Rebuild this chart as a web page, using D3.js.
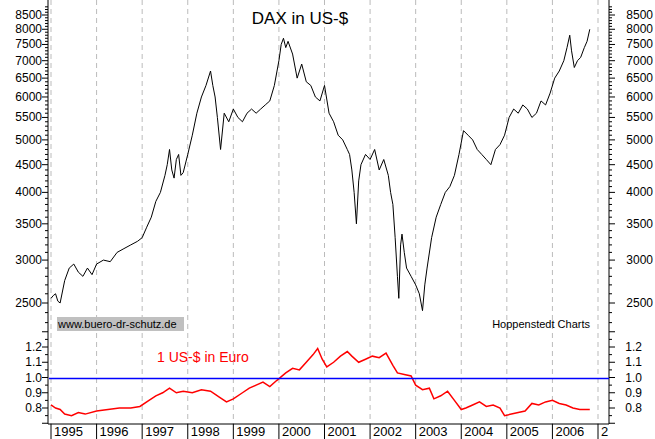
<!DOCTYPE html><html><head><meta charset="utf-8">
<script src="https://cdn.jsdelivr.net/npm/d3@7"></script>
<style>body{margin:0;background:#fff}text{font-family:"Liberation Sans",Arial,sans-serif}</style></head><body>
<svg id="c" width="655" height="439"></svg>
<script>
const daxT=[1995.0,1995.05,1995.1,1995.15,1995.2,1995.3,1995.4,1995.5,1995.6,1995.7,1995.8,1995.9,1996.0,1996.15,1996.3,1996.45,1996.6,1996.75,1996.9,1997.0,1997.1,1997.2,1997.3,1997.4,1997.5,1997.55,1997.6,1997.65,1997.7,1997.75,1997.8,1997.85,1997.9,1998.0,1998.1,1998.2,1998.3,1998.4,1998.5,1998.55,1998.6,1998.65,1998.72,1998.8,1998.9,1999.0,1999.1,1999.2,1999.3,1999.4,1999.5,1999.6,1999.7,1999.8,1999.9,2000.0,2000.05,2000.1,2000.15,2000.2,2000.3,2000.4,2000.5,2000.6,2000.7,2000.8,2000.9,2001.0,2001.1,2001.2,2001.3,2001.4,2001.5,2001.55,2001.6,2001.65,2001.7,2001.75,2001.8,2001.9,2002.0,2002.1,2002.2,2002.3,2002.4,2002.45,2002.5,2002.55,2002.6,2002.63,2002.67,2002.7,2002.75,2002.8,2002.9,2003.0,2003.08,2003.15,2003.2,2003.25,2003.35,2003.45,2003.55,2003.65,2003.75,2003.85,2003.95,2004.05,2004.15,2004.25,2004.35,2004.45,2004.55,2004.65,2004.75,2004.85,2004.95,2005.05,2005.15,2005.25,2005.35,2005.45,2005.55,2005.65,2005.75,2005.85,2005.95,2006.05,2006.15,2006.25,2006.32,2006.38,2006.42,2006.48,2006.55,2006.62,2006.7,2006.76,2006.82];
const daxV=[2550,2580,2600,2520,2500,2750,2900,2950,2850,2800,2900,2820,2950,3000,2980,3100,3150,3200,3250,3300,3450,3600,3850,4000,4300,4500,4800,4400,4250,4600,4700,4300,4350,4700,5100,5600,6000,6300,6700,6300,6000,5500,4800,5600,5400,5700,5500,5400,5600,5700,5600,5700,5800,5900,6300,7000,7500,7700,7400,7600,7200,6500,6900,6400,6300,6000,5900,6300,5600,5400,5100,5000,4800,4700,4400,4000,3500,4200,4500,4700,4600,4800,4400,4600,4300,4000,3800,3300,2800,2550,3200,3350,3100,2900,2800,2700,2600,2420,2700,2900,3300,3600,3800,4000,4100,4300,4700,5200,5100,5000,4800,4700,4600,4500,4800,4900,5100,5500,5700,5600,5800,5700,5500,5600,5900,5800,6100,6500,6700,7000,7400,7800,7300,6800,7000,7100,7400,7600,8000];
const fxT=[1995.0,1995.1,1995.2,1995.3,1995.45,1995.6,1995.75,1996.0,1996.25,1996.5,1996.75,1996.95,1997.15,1997.3,1997.45,1997.6,1997.75,1997.9,1998.1,1998.3,1998.5,1998.7,1998.85,1999.0,1999.2,1999.35,1999.5,1999.65,1999.8,1999.95,2000.15,2000.3,2000.45,2000.6,2000.75,2000.85,2000.95,2001.05,2001.2,2001.35,2001.5,2001.6,2001.75,2001.9,2002.05,2002.2,2002.35,2002.5,2002.6,2002.75,2002.9,2003.0,2003.15,2003.3,2003.4,2003.55,2003.7,2003.85,2004.0,2004.1,2004.25,2004.4,2004.55,2004.7,2004.85,2004.95,2005.1,2005.25,2005.4,2005.55,2005.7,2005.85,2006.0,2006.15,2006.3,2006.45,2006.6,2006.75,2006.82];
const fxV=[0.82,0.80,0.79,0.76,0.75,0.77,0.76,0.78,0.79,0.80,0.80,0.81,0.85,0.88,0.90,0.93,0.90,0.91,0.90,0.92,0.91,0.87,0.84,0.86,0.90,0.93,0.95,0.97,0.94,0.98,1.03,1.06,1.05,1.10,1.15,1.19,1.12,1.07,1.10,1.14,1.17,1.14,1.10,1.12,1.14,1.13,1.16,1.08,1.03,1.02,1.01,0.95,0.92,0.93,0.86,0.88,0.91,0.85,0.79,0.80,0.82,0.84,0.81,0.82,0.80,0.75,0.76,0.77,0.78,0.83,0.82,0.84,0.85,0.83,0.82,0.80,0.79,0.79,0.79];
const years=[1995,1996,1997,1998,1999,2000,2001,2002,2003,2004,2005,2006,2007];
const daxTicks=[2500,3000,3500,4000,4500,5000,5500,6000,6500,7000,7500,8000,8500];
const fxTicks=[0.8,0.9,1.0,1.1,1.2];

const svg=d3.select("#c");
const L=48,R=609,B=424;
const x=d3.scaleLinear().domain([1995,2007]).range([51,598]);
const yU=d3.scaleLog().domain([2500,8500]).range([303,15]);
const yL=d3.scaleLinear().domain([0.8,1.2]).range([408,347]);

svg.append("g").selectAll("line").data(years).join("line")
 .attr("x1",d=>x(d)).attr("x2",d=>x(d)).attr("y1",0).attr("y2",B)
 .attr("stroke","#bbb").attr("stroke-dasharray","5,4");
svg.append("line").attr("x1",L).attr("x2",L).attr("y1",0).attr("y2",B).attr("stroke","#000");
svg.append("line").attr("x1",R).attr("x2",R).attr("y1",0).attr("y2",B).attr("stroke","#000");
svg.append("line").attr("x1",L).attr("x2",R).attr("y1",B).attr("y2",B).attr("stroke","#000");
const minorU=d3.range(2300,8900,100);
const minorL=d3.range(0.7,1.3,0.05);
[[L,-1],[R,1]].forEach(([ax,s])=>{
 const g=svg.append("g");
 g.selectAll(".mu").data(minorU).join("line").attr("x1",ax).attr("x2",d=>ax+s*(d%500===0?6:3))
  .attr("y1",d=>yU(d)).attr("y2",d=>yU(d)).attr("stroke","#000");
 g.selectAll(".ml").data(minorL.filter(d=>yL(d)<B&&yL(d)>330)).join("line").attr("x1",ax).attr("x2",d=>ax+s*(Math.abs(d*10-Math.round(d*10))<0.01?6:3))
  .attr("y1",d=>yL(d)).attr("y2",d=>yL(d)).attr("stroke","#000");
 g.selectAll(".tu").data(daxTicks).join("text").attr("x",s<0?ax-6:ax+44).attr("y",d=>yU(d)+4)
  .attr("text-anchor","end").attr("font-size",12).text(d=>d);
 g.selectAll(".tl").data(fxTicks).join("text").attr("x",s<0?ax-6:ax+33).attr("y",d=>yL(d)+4)
  .attr("text-anchor","end").attr("font-size",12).text(d=>d.toFixed(1));
});
svg.append("g").selectAll("line").data(years).join("line").attr("x1",d=>x(d)).attr("x2",d=>x(d))
 .attr("y1",B).attr("y2",439).attr("stroke","#000");
svg.append("g").selectAll("text").data(years).join("text").attr("x",d=>x(d)+3).attr("y",436)
 .attr("font-size",13).text(d=>d===2007?"2":d);
svg.append("path").datum(daxT.map((t,i)=>[t,daxV[i]])).attr("fill","none").attr("stroke","#000")
 .attr("d",d3.line().x(d=>x(d[0])).y(d=>yU(d[1])));
svg.append("path").datum(fxT.map((t,i)=>[t,fxV[i]])).attr("fill","none").attr("stroke","#ff0000").attr("stroke-width",1.5)
 .attr("d",d3.line().x(d=>x(d[0])).y(d=>yL(d[1])));
svg.append("line").attr("x1",L+1).attr("x2",R).attr("y1",Math.round(yL(1))+0.5).attr("y2",Math.round(yL(1))+0.5).attr("stroke","#0000ff").attr("stroke-width",1.3);
svg.append("text").attr("x",300).attr("y",24).attr("text-anchor","middle").attr("font-size",17).text("DAX in US-$");
svg.append("rect").attr("x",57).attr("y",317).attr("width",127).attr("height",14).attr("fill","#c0c0c0");
svg.append("text").attr("x",58).attr("y",328).attr("font-size",11).text("www.buero-dr-schutz.de");
svg.append("text").attr("x",590).attr("y",328).attr("text-anchor","end").attr("font-size",11).text("Hoppenstedt Charts");
svg.append("text").attr("x",157).attr("y",362).attr("font-size",14).attr("fill","#ff0000").text("1 US-$ in Euro");
</script></body></html>
